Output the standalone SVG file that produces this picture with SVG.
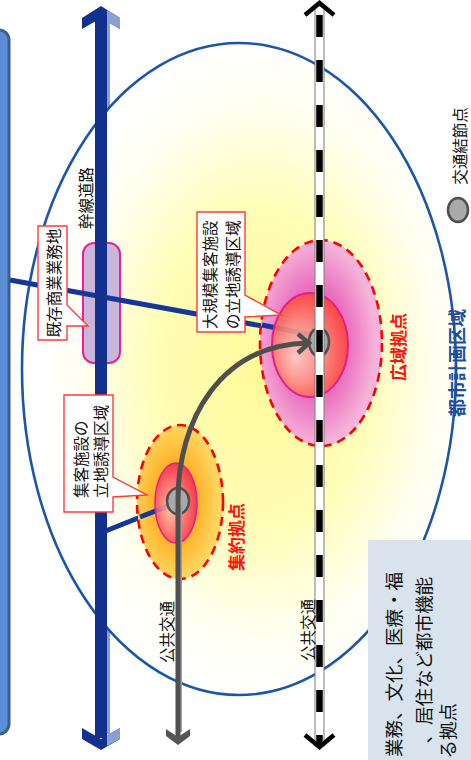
<svg xmlns="http://www.w3.org/2000/svg" width="471" height="760" viewBox="0 0 471 760">
<defs>
  <radialGradient id="bgGrad" cx="0.55" cy="0.5" r="0.5">
    <stop offset="0" stop-color="#fffb98"/>
    <stop offset="0.5" stop-color="#fffdb8"/>
    <stop offset="0.8" stop-color="#fffff0"/>
    <stop offset="1" stop-color="#ffffff"/>
  </radialGradient>
  <radialGradient id="pinkOuter" cx="0.45" cy="0.5" r="0.5">
    <stop offset="0" stop-color="#de3ea4"/>
    <stop offset="0.55" stop-color="#ea70c0"/>
    <stop offset="1" stop-color="#f6b4da"/>
  </radialGradient>
  <radialGradient id="redInner" cx="0.45" cy="0.55" r="0.55" fx="0.3" fy="0.62">
    <stop offset="0" stop-color="#ffd8c8"/>
    <stop offset="0.5" stop-color="#ff9a82"/>
    <stop offset="1" stop-color="#ff4232"/>
  </radialGradient>
  <radialGradient id="orangeOuter" cx="0.45" cy="0.5" r="0.5">
    <stop offset="0" stop-color="#ff9410"/>
    <stop offset="0.55" stop-color="#ffb42c"/>
    <stop offset="1" stop-color="#ffd660"/>
  </radialGradient>
  <radialGradient id="pinkInner" cx="0.45" cy="0.55" r="0.55" fx="0.35" fy="0.6">
    <stop offset="0" stop-color="#ffc8c0"/>
    <stop offset="0.55" stop-color="#ff7282"/>
    <stop offset="1" stop-color="#f02850"/>
  </radialGradient>
</defs>
<style>
  .t{font-family:"Noto Sans CJK JP","Noto Sans",sans-serif;fill:#111;}
  .lbl{font-size:15.5px;}
  .red{fill:#ff1010;font-size:17px;font-weight:bold;}
  .blue{fill:#1d4f9f;font-size:18px;font-weight:bold;}
  .box{fill:#ffffff;stroke:#ff3a3a;stroke-width:1.4;}
  .dash{stroke:#ff0000;stroke-width:2.6;stroke-dasharray:9 6;}
  .hub{fill:#a9a9a9;stroke:#4e4e4e;stroke-width:2.5;}
  .road{fill:#12308e;}
  .roadlight{fill:#8b9fd0;}
  .branch{stroke:#16379a;stroke-width:5;fill:none;}
  .gray{stroke:#4f4f4f;stroke-width:5;fill:none;}
</style>

<!-- left panel edge -->
<rect id="left-panel" x="-20" y="30" width="29" height="704" rx="10" fill="#5b8ed6" stroke="#3d618f" stroke-width="3"/>

<!-- road light shade (under planning area) -->
<rect class="roadlight" x="106" y="14" width="4" height="720"/>

<!-- planning area -->
<g id="planning-area">
  <ellipse cx="239" cy="369" rx="217" ry="326" fill="url(#bgGrad)" stroke="#1b56a8" stroke-width="2.6"/>
  <text class="t blue" transform="translate(456,363) rotate(-90)" text-anchor="middle" dominant-baseline="central">都市計画区域</text>
</g>

<!-- existing commercial area -->
<g id="existing-commercial">
  <rect x="83" y="243" width="37" height="120" rx="11" fill="#c9b6d9" stroke="#e8209a" stroke-width="2"/>
</g>

<g id="connectors">
  <!-- branch roads -->
  <line class="branch" x1="10" y1="280" x2="317" y2="336"/>
  <line class="branch" x1="103" y1="532" x2="176" y2="503"/>
</g>

<!-- trunk road -->
<g id="trunk-road">
  <rect class="road" x="95" y="14" width="12" height="724"/>
  <polygon class="road" points="82,18 101,6 120,18 120,29 101,18 82,29"/>
  <polygon class="roadlight" points="107,10 120,18 120,29 107,22"/>
  <polygon class="road" points="82,728 101,739 120,728 120,739 101,750 82,739"/>
  <polygon class="roadlight" points="107,735 120,728 120,739 107,746"/>
  <text class="t lbl" transform="translate(85,198) rotate(-90)" text-anchor="middle" dominant-baseline="central">幹線道路</text>
</g>

<!-- wide-area hub -->
<g id="node-kouiki">
  <ellipse cx="321" cy="343" rx="61" ry="103" fill="url(#pinkOuter)" class="dash"/>
  <line class="branch" x1="262" y1="325" x2="317" y2="336"/>
  <ellipse cx="310" cy="345" rx="38" ry="52" fill="url(#redInner)" fill-opacity="0.85" stroke="#e0208a" stroke-width="2"/>
  <ellipse class="hub" cx="319" cy="342" rx="10" ry="14"/>
  <text class="t red" transform="translate(397,347) rotate(-90)" text-anchor="middle" dominant-baseline="central">広域拠点</text>
</g>

<!-- concentration hub -->
<g id="node-shuyaku">
  <ellipse cx="180" cy="502" rx="43" ry="77" fill="url(#orangeOuter)" class="dash"/>
  <line class="branch" x1="140" y1="517" x2="176" y2="503"/>
  <ellipse cx="176" cy="503" rx="21" ry="40" fill="url(#pinkInner)" fill-opacity="0.85" stroke="#e0208a" stroke-width="1.5"/>
  <ellipse class="hub" cx="178" cy="501" rx="11" ry="13"/>
  <text class="t red" transform="translate(235,537) rotate(-90)" text-anchor="middle" dominant-baseline="central">集約拠点</text>
</g>

<!-- public transport arrow -->
<g id="public-transport-arrow">
  <line x1="181" y1="505" x2="181" y2="732" stroke="#a0a0a0" stroke-width="2"/>
  <path class="gray" d="M178,738 L178,500 C178,420 220,345 308,343"/>
  <polyline points="298,334 309,343 298,353" fill="none" stroke="#4f4f4f" stroke-width="4.5"/>
  <polygon points="166,729 178,737 190,729 190,736 178,745 166,736" fill="#555"/>
  <text class="t lbl" transform="translate(166,632) rotate(-90)" text-anchor="middle" dominant-baseline="central">公共交通</text>
</g>

<!-- railway -->
<g id="railway">
  <rect x="315" y="6" width="9" height="740" fill="#ffffff" stroke="#7a7a7a" stroke-width="1"/>
  <line x1="319.5" y1="15" x2="319.5" y2="744" stroke="#000" stroke-width="6.5" stroke-dasharray="22 23"/>
  <polyline points="305,15 319.5,3 334,15" fill="none" stroke="#000" stroke-width="4.5"/>
  <polyline points="305,735 319.5,747 334,735" fill="none" stroke="#000" stroke-width="4.5"/>
  <text class="t lbl" transform="translate(307,630) rotate(-90)" text-anchor="middle" dominant-baseline="central">公共交通</text>
</g>

<!-- labels -->
<g id="label-existing">
  <path class="box" d="M38,226 H67 V305 L88,326 L67,326 V340 H38 Z"/>
  <text class="t lbl" transform="translate(53,283) rotate(-90)" text-anchor="middle" dominant-baseline="central">既存商業業務地</text>
</g>
<g id="label-shukyaku">
  <path class="box" d="M64,395 H113 V477 L147,495 L113,497 V512 H64 Z"/>
  <text class="t lbl" transform="translate(80,498) rotate(-90)" dominant-baseline="central">集客施設の</text>
  <text class="t lbl" transform="translate(100,498) rotate(-90)" dominant-baseline="central">立地誘導区域</text>
</g>
<g id="label-large">
  <path class="box" d="M197,212 H245 V295 L281,315 L245,317 V332 H197 Z"/>
  <text class="t lbl" transform="translate(209,329) rotate(-90)" dominant-baseline="central">大規模集客施設</text>
  <text class="t lbl" transform="translate(232,329) rotate(-90)" dominant-baseline="central">の立地誘導区域</text>
</g>

<!-- legend -->
<g id="legend">
  <ellipse class="hub" cx="458" cy="210" rx="10" ry="12"/>
  <text class="t lbl" transform="translate(459,146) rotate(-90)" text-anchor="middle" dominant-baseline="central">交通結節点</text>
</g>

<!-- note box -->
<g id="note">
  <rect x="368" y="540" width="110" height="230" fill="#d9e3ee"/>
  <text class="t" style="font-size:18.5px" transform="translate(393,572) rotate(-90)" text-anchor="end" dominant-baseline="central">業務、文化、医療・福</text>
  <text class="t" style="font-size:18.5px" transform="translate(423,577) rotate(-90)" text-anchor="end" dominant-baseline="central">、居住など都市機能</text>
  <text class="t" style="font-size:18.5px" transform="translate(447,703) rotate(-90)" text-anchor="end" dominant-baseline="central">る拠点</text>
</g>
</svg>
